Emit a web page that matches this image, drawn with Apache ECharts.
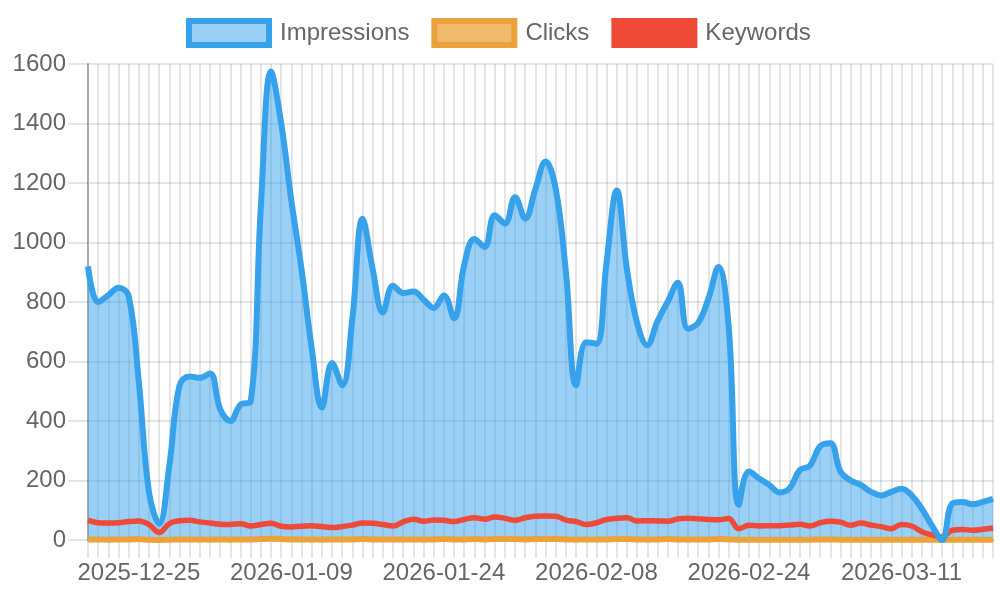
<!DOCTYPE html>
<html>
<head>
<meta charset="utf-8">
<script src="https://cdn.jsdelivr.net/npm/echarts@6/dist/echarts.min.js"></script>
<style>
html,body{margin:0;padding:0;background:#fff;}
#chart{width:1000px;height:600px;}
</style>
</head>
<body>
<div id="chart"></div>
<script>
const dates = [
"2025-12-20","2025-12-21","2025-12-22","2025-12-23","2025-12-24","2025-12-25","2025-12-26","2025-12-27","2025-12-28","2025-12-29",
"2025-12-30","2025-12-31","2026-01-01","2026-01-02","2026-01-03","2026-01-04","2026-01-05","2026-01-06","2026-01-07","2026-01-08",
"2026-01-09","2026-01-10","2026-01-11","2026-01-12","2026-01-13","2026-01-14","2026-01-15","2026-01-16","2026-01-17","2026-01-18",
"2026-01-19","2026-01-20","2026-01-21","2026-01-22","2026-01-23","2026-01-24","2026-01-25","2026-01-26","2026-01-27","2026-01-28",
"2026-01-29","2026-01-30","2026-01-31","2026-02-01","2026-02-02","2026-02-03","2026-02-04","2026-02-05","2026-02-06","2026-02-07",
"2026-02-08","2026-02-09","2026-02-10","2026-02-11","2026-02-12","2026-02-13","2026-02-14","2026-02-15","2026-02-17","2026-02-18",
"2026-02-19","2026-02-20","2026-02-21","2026-02-22","2026-02-23","2026-02-24","2026-02-25","2026-02-26","2026-02-27","2026-02-28",
"2026-03-01","2026-03-02","2026-03-03","2026-03-04","2026-03-05","2026-03-06","2026-03-07","2026-03-08","2026-03-09","2026-03-10",
"2026-03-11","2026-03-12","2026-03-13","2026-03-14","2026-03-15","2026-03-16","2026-03-17","2026-03-18","2026-03-19","2026-03-20"
];

const impressions = [
920,800,823,848,820,530,160,55,250,520,
550,545,560,440,400,455,465,1120,1575,1400,
1140,910,645,445,595,520,745,1080,910,765,
855,830,835,808,780,822,745,925,1012,985,
1092,1064,1152,1080,1180,1272,1180,900,520,665,
660,935,1175,910,730,655,735,800,865,710,
730,810,918,720,118,230,207,185,160,174,
235,250,315,325,230,200,185,162,150,162,
172,150,105,48,0,123,128,120,128,138
];

const clicks = [
2,2,1,2,2,3,1,0,1,2,
2,2,1,2,1,2,2,3,4,3,
2,2,2,1,2,2,2,3,2,2,
2,2,2,2,2,3,2,2,3,2,
3,3,3,2,3,3,3,2,1,2,
2,2,3,3,2,2,2,3,2,2,
2,2,3,2,1,1,1,1,1,1,
1,1,2,2,1,1,1,1,1,1,
1,1,1,1,0,1,1,1,1,1
];

const keywords = [
67,58,57,58,62,64,52,25,55,65,
66,61,57,53,52,55,47,52,56,46,
44,46,48,45,42,45,50,57,56,52,
47,61,70,63,67,66,62,69,75,70,
77,73,66,75,80,81,80,67,62,52,
58,69,73,75,64,65,64,63,71,73,
71,69,68,72,38,50,47,48,48,50,
53,47,58,63,60,50,57,50,45,38,
52,47,28,17,10,33,35,33,36,40
];

const yTicks = {min: 0, max: 1600, interval: 200};

const FONT = "'Liberation Sans', Arial, Helvetica, sans-serif";
const GRID_COLOR = 'rgba(0,0,0,0.1)';
const BLUE = '#36A2EB';
const ORANGE = '#EBA23B';
const RED = '#EE4A37';

const chart = echarts.init(document.getElementById('chart'), null, {renderer: 'canvas'});
chart.setOption({
  animation: false,
  backgroundColor: '#fff',
  textStyle: {fontFamily: FONT},
  legend: {
    top: 13,
    left: 181,
    itemWidth: 80,
    itemHeight: 24,
    itemGap: 22,
    selectedMode: false,
    textStyle: {fontSize: 24, color: '#666', fontFamily: FONT, padding: [0, 0, 0, 6]},
    data: [
      {name: 'Impressions', icon: 'rect', itemStyle: {color: 'rgba(54,162,235,0.5)', borderColor: BLUE, borderWidth: 6}},
      {name: 'Clicks', icon: 'rect', itemStyle: {color: 'rgba(235,162,59,0.75)', borderColor: ORANGE, borderWidth: 6}},
      {name: 'Keywords', icon: 'rect', itemStyle: {color: RED, borderColor: RED, borderWidth: 6}}
    ]
  },
  grid: {left: 88, right: 7, top: 64, bottom: 60, containLabel: false},
  xAxis: {
    type: 'category',
    boundaryGap: false,
    data: dates,
    axisLine: {show: true, lineStyle: {color: '#aaa', width: 2}},
    axisTick: {show: true, interval: 0, length: 18, lineStyle: {color: GRID_COLOR, width: 2}},
    splitLine: {show: true, interval: 0, lineStyle: {color: GRID_COLOR, width: 2}},
    axisLabel: {
      interval: function (idx) { return idx % 15 === 5; },
      fontSize: 24, color: '#666', fontFamily: FONT, margin: 21
    }
  },
  yAxis: {
    type: 'value',
    min: yTicks.min, max: yTicks.max, interval: yTicks.interval,
    axisLine: {show: true, lineStyle: {color: '#aaa', width: 2}},
    axisTick: {show: true, length: 20, lineStyle: {color: GRID_COLOR, width: 2}},
    splitLine: {show: true, lineStyle: {color: GRID_COLOR, width: 2}},
    axisLabel: {fontSize: 24, color: '#666', fontFamily: FONT, margin: 22,
      formatter: function (v) { return String(v); }}
  },
  series: [
    {
      name: 'Impressions', type: 'line', data: impressions, smooth: 0.4,
      symbol: 'none', showSymbol: false, z: 1,
      lineStyle: {width: 0, color: BLUE, opacity: 0},
      itemStyle: {color: BLUE},
      areaStyle: {color: 'rgba(54,162,235,0.5)', opacity: 1},
      emphasis: {disabled: true}
    },
    {
      name: 'Clicks', type: 'line', data: clicks, smooth: 0.4,
      symbol: 'none', showSymbol: false, z: 2,
      lineStyle: {width: 6, color: ORANGE},
      itemStyle: {color: ORANGE},
      areaStyle: {color: 'rgba(235,162,59,0.5)', opacity: 1},
      emphasis: {disabled: true}
    },
    {
      name: 'Keywords', type: 'line', data: keywords, smooth: 0.4,
      symbol: 'none', showSymbol: false, z: 3,
      lineStyle: {width: 5.5, color: RED},
      itemStyle: {color: RED},
      emphasis: {disabled: true}
    },
    {
      name: 'Impressions', type: 'line', data: impressions, smooth: 0.4,
      symbol: 'none', showSymbol: false, z: 4,
      lineStyle: {width: 6, color: BLUE},
      itemStyle: {color: BLUE},
      emphasis: {disabled: true}
    }
  ]
});
</script>
</body>
</html>
